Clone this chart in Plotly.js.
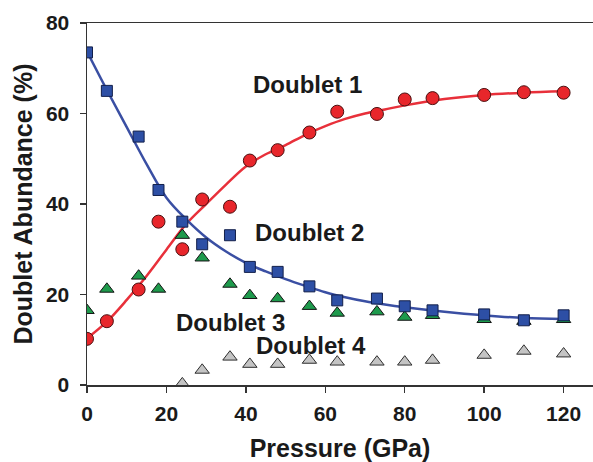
<!DOCTYPE html>
<html>
<head>
<meta charset="utf-8">
<script src="https://cdn.plot.ly/plotly-3.0.1.min.js"></script>
<style>html,body{margin:0;padding:0;background:#fff;}#chart{width:593px;height:462px;}</style>
</head>
<body>
<div id="chart"></div>
<script>
// Pressure points (GPa)
const pressure = [0, 5, 13, 18, 24, 29, 36, 41, 48, 56, 63, 73, 80, 87, 100, 110, 120];
// Doublet abundances (%)
const doublet1 = [10.2, 14.1, 21.1, 36.1, 30.0, 41.0, 39.4, 49.6, 51.9, 55.8, 60.4, 59.9, 63.1, 63.4, 64.1, 64.7, 64.6];
const doublet2 = [73.5, 65.0, 54.9, 43.1, 36.1, 31.1, 33.1, 26.1, 25.0, 21.8, 18.7, 19.1, 17.4, 16.5, 15.6, 14.3, 15.4];
const doublet3 = [16.5, 21.2, 24.1, 21.2, 33.1, 28.1, 22.3, 19.8, 19.1, 17.4, 15.9, 16.2, 15.0, 15.4, 14.5, 14.1, 14.5];
const pressure4 = [24, 29, 36, 41, 48, 56, 63, 73, 80, 87, 100, 110, 120];
const doublet4 = [0.3, 3.3, 6.2, 4.6, 4.6, 5.5, 5.1, 5.1, 5.1, 5.5, 6.6, 7.5, 6.9];
// Fitted curves
const fitP = [0, 5, 10, 15, 20, 25, 30, 35, 40, 45, 50, 55, 60, 65, 70, 75, 80, 90, 100, 110, 120];
const fit1 = [10.3, 14.0, 18.8, 24.1, 29.9, 35.6, 40.0, 44.3, 48.3, 51.0, 53.0, 55.3, 57.2, 58.8, 60.0, 60.9, 61.8, 63.2, 64.1, 64.6, 64.9];
const fit2 = [73.7, 65.2, 57.0, 48.8, 41.4, 36.6, 32.6, 29.5, 27.0, 25.1, 23.4, 21.9, 20.5, 19.4, 18.5, 17.8, 17.2, 16.2, 15.4, 14.8, 14.6];
const xTicks = [0, 20, 40, 60, 80, 100, 120];
const yTicks = [0, 20, 40, 60, 80];
const labels = ["Doublet 1", "Doublet 2", "Doublet 3", "Doublet 4"];
const labelX = [55.6, 56.1, 36.2, 56.4];
const labelY = [66.3, 33.6, 13.9, 8.8];

const FONT = "Liberation Sans, Arial, sans-serif";
const traces = [
  {x: fitP, y: fit1, mode: "lines", line: {color: "#e8303a", width: 2.5, shape: "spline"}, hoverinfo: "skip"},
  {x: fitP, y: fit2, mode: "lines", line: {color: "#3a4fa3", width: 2.5, shape: "spline"}, hoverinfo: "skip"},
  {x: pressure4, y: doublet4, mode: "markers", marker: {symbol: "triangle-up", size: 12.5, color: "#c4c4c4", line: {color: "#2e2e2e", width: 1}}},
  {x: pressure, y: doublet3, mode: "markers", marker: {symbol: "triangle-up", size: 12.5, color: "#1e9a4c", line: {color: "#141414", width: 1}}},
  {x: pressure, y: doublet1, mode: "markers", marker: {symbol: "circle", size: 13, color: "#e8262b", line: {color: "#4a1010", width: 1}}},
  {x: pressure, y: doublet2, mode: "markers", marker: {symbol: "square", size: 11, color: "#2d4fa5", line: {color: "#121f4a", width: 1}}}
];

const layout = {
  width: 593, height: 462,
  margin: {l: 87, r: 0, t: 23, b: 77, pad: 0},
  paper_bgcolor: "#ffffff", plot_bgcolor: "#ffffff",
  showlegend: false,
  font: {family: FONT, color: "#1a1a1a", size: 21, weight: "bold"},
  xaxis: {
    range: [0, 127.4], tickvals: xTicks, ticktext: xTicks.map(String),
    showgrid: false, zeroline: false, showline: true, mirror: true,
    linecolor: "#333333", linewidth: 1.5,
    ticks: "outside", ticklen: 6, tickwidth: 1.5, tickcolor: "#333333",
    ticklabelstandoff: 3,
    tickfont: {family: FONT, size: 21, color: "#1a1a1a", weight: "bold"},
    title: {text: "Pressure (GPa)", font: {family: FONT, size: 25, color: "#1a1a1a", weight: "bold"}, standoff: 18}
  },
  yaxis: {
    range: [0, 80], tickvals: yTicks, ticktext: yTicks.map(String),
    showgrid: false, zeroline: false, showline: true,
    linecolor: "#333333", linewidth: 1.5,
    ticks: "outside", ticklen: 6, tickwidth: 1.5, tickcolor: "#333333",
    ticklabelstandoff: 6,
    tickfont: {family: FONT, size: 21, color: "#1a1a1a", weight: "bold"},
    title: {text: "Doublet Abundance (%)", font: {family: FONT, size: 25, color: "#1a1a1a", weight: "bold"}, standoff: 6}
  },
  annotations: labels.map((t, i) => ({
    text: t, x: labelX[i], y: labelY[i], xref: "x", yref: "y",
    showarrow: false, xanchor: "center", yanchor: "middle",
    font: {family: FONT, size: 24, color: "#1a1a1a", weight: "bold"}
  }))
};

Plotly.newPlot("chart", traces, layout, {displayModeBar: false, staticPlot: true});
</script>
</body>
</html>
